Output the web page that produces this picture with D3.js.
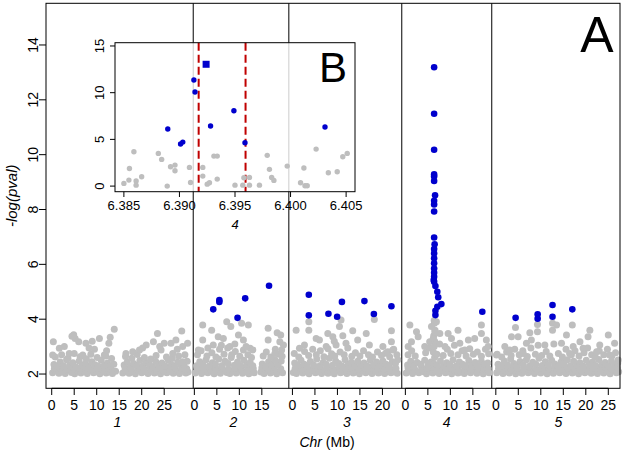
<!DOCTYPE html>
<html><head><meta charset="utf-8">
<script src="https://cdn.jsdelivr.net/npm/d3@7"></script>
<style>body{margin:0;background:#fff}svg{display:block;font-family:"Liberation Sans",Arial,sans-serif}</style>
</head><body><svg id="c" width="626" height="454"></svg>
<script>
// ---------- data ----------
const chromosomes = ["1","2","3","4","5"];
const chrOffsetMb = [0, 31.7, 53.5, 78.6, 98.7];
const chrLabelMb = [14.6, 8.7, 12.1, 9.2, 13.9];
const separatorsMb = [31.45, 52.7, 77.8, 97.8];
const chrTicks = [[0,5,10,15,20,25],[0,5,10,15],[0,5,10,15,20],[0,5,10,15],[0,5,10,15,20,25]];
const yTicks = [2,4,6,8,10,12,14];

const chr1Gray = [[0.2,2.05],[0.9,2.12],[1.6,2.03],[2.3,2.1],[3.0,2.02],[3.7,2.14],[4.4,2.06],[5.1,2.01],[5.8,2.11],[6.5,2.04],[7.2,2.09],[7.9,2.02],[8.6,2.13],[9.3,2.05],[10.0,2.08],[10.7,2.01],[11.4,2.12],[12.1,2.04],[12.8,2.07],[13.5,2.02],[14.2,2.1],[15.8,2.04],[16.5,2.11],[17.2,2.03],[17.9,2.08],[18.6,2.01],[19.3,2.13],[20.0,2.05],[20.7,2.09],[21.4,2.02],[22.1,2.12],[22.8,2.04],[23.5,2.07],[24.2,2.01],[24.9,2.1],[25.6,2.05],[26.3,2.13],[27.0,2.03],[27.7,2.08],[28.4,2.02],[29.1,2.11],[29.8,2.04],[30.3,2.07],
[0.6,2.2],[2.0,2.24],[3.4,2.18],[4.8,2.22],[6.2,2.2],[7.6,2.25],[9.0,2.19],[10.4,2.23],[11.8,2.2],[13.2,2.18],[16.3,2.22],[17.7,2.2],[19.1,2.25],[20.5,2.19],[21.9,2.23],[23.3,2.2],[24.7,2.18],[26.1,2.24],[27.5,2.2],[28.9,2.22],[30.0,2.19],
[0.5,2.35],[1.2,2.28],[1.9,2.44],[2.6,2.3],[3.3,2.52],[4.0,2.33],[4.7,2.41],[5.4,2.26],[6.1,2.48],[6.8,2.31],[7.5,2.39],[8.2,2.27],[8.9,2.45],[9.6,2.34],[10.3,2.29],[11.0,2.5],[11.7,2.32],[12.4,2.4],[13.1,2.28],[13.8,2.36],[16.1,2.33],[16.8,2.44],[17.5,2.27],[18.2,2.38],[18.9,2.31],[19.6,2.49],[20.3,2.29],[21.0,2.42],[21.7,2.35],[22.4,2.27],[23.1,2.46],[23.8,2.32],[24.5,2.4],[25.2,2.3],[25.9,2.51],[26.6,2.34],[27.3,2.28],[28.0,2.43],[28.7,2.36],[29.4,2.3],[30.1,2.47],
[0.8,2.62],[2.2,2.7],[3.6,2.58],[5.0,2.75],[6.3,2.63],[7.7,2.56],[8.7,2.72],[10.1,2.6],[12.0,2.66],[13.3,2.57],[16.4,2.64],[17.8,2.58],[19.0,2.71],[20.6,2.6],[22.0,2.55],[23.2,2.68],[25.5,2.62],[26.8,2.57],[28.2,2.66],[29.6,2.7],
[13.9,3.63],[28.9,3.57],[4.88,3.43],[23.5,3.48],[10.6,3.30],[13.0,3.34],[12.7,3.12],[0.36,3.18],[1.69,2.94],[2.8,3.0],[6.0,3.18],[7.6,3.12],[9.0,3.2],[9.5,2.9],[21.0,3.06],[22.6,3.18],[25.0,3.12],[26.5,3.12],[27.6,3.24],[30.2,3.12],[29.1,3.0],[0.21,2.69],[3.9,2.75],[6.9,2.69],[11.7,2.69],[16.5,2.75],[18.0,2.81],[19.5,2.88],[24.3,2.88],[26.9,2.75],[29.1,2.45],[5.2,3.3],[4.5,3.38],[8.3,2.95],[12.2,2.85],[20.2,2.95],[24.0,3.0],[27.9,2.9]];

const chr2Gray = [[0.2,2.04],[0.9,2.11],[1.6,2.02],[2.3,2.09],[3.0,2.05],[3.7,2.13],[4.4,2.01],[5.1,2.08],[5.8,2.03],[6.5,2.12],[7.2,2.06],[7.9,2.02],[8.6,2.1],[9.3,2.04],[10.0,2.13],[10.7,2.03],[11.4,2.08],[12.1,2.01],[12.8,2.11],[13.3,2.05],[14.8,2.07],[15.5,2.02],[16.2,2.12],[16.9,2.04],[17.6,2.09],[18.3,2.01],[19.0,2.1],[19.6,2.05],
[0.6,2.21],[2.0,2.19],[3.4,2.24],[4.8,2.2],[6.2,2.22],[7.6,2.18],[9.0,2.23],[10.4,2.2],[11.8,2.25],[13.1,2.19],[15.0,2.22],[16.4,2.2],[17.8,2.24],[19.2,2.19],
[0.5,2.3],[1.2,2.45],[1.9,2.33],[2.6,2.52],[3.3,2.29],[4.0,2.41],[4.7,2.36],[5.4,2.55],[6.1,2.3],[6.8,2.47],[7.5,2.38],[8.2,2.6],[8.9,2.32],[9.6,2.44],[10.3,2.29],[11.0,2.5],[11.7,2.35],[12.4,2.42],[13.0,2.3],[15.1,2.37],[15.8,2.28],[16.5,2.45],[17.2,2.33],[17.9,2.52],[18.6,2.36],[19.3,2.48],
[0.7,2.7],[1.5,2.85],[2.8,2.66],[3.9,2.78],[4.8,2.62],[5.6,2.9],[6.6,2.72],[7.4,2.95],[8.3,2.7],[9.1,2.82],[10.1,2.65],[10.9,2.88],[11.9,2.7],[12.7,2.6],[15.3,2.66],[16.0,2.8],[17.0,2.62],[18.0,2.9],[18.8,2.72],[19.5,2.65],
[1.86,3.79],[3.85,3.60],[7.19,3.91],[8.1,3.73],[10.5,3.85],[12.0,3.79],[16.4,3.67],[18.4,3.51],[19.2,3.42],[1.86,3.24],[5.3,3.36],[6.45,3.30],[9.8,3.42],[10.9,3.24],[16.4,3.24],[19.0,3.18],[0.9,2.88],[4.2,3.06],[7.9,3.0],[12.4,2.94],[13.0,2.88],[17.9,2.75],[19.4,2.88],[19.8,3.06],[6.0,3.05],[9.0,3.1],[11.5,3.0],[3.0,2.95]];

const chr3Gray = [[0.2,2.06],[0.9,2.02],[1.6,2.12],[2.3,2.04],[3.0,2.09],[3.7,2.01],[4.4,2.13],[5.1,2.05],[5.8,2.08],[6.5,2.02],[7.2,2.11],[7.9,2.03],[8.6,2.07],[9.3,2.01],[10.0,2.12],[10.7,2.05],[11.4,2.09],[12.1,2.02],[12.8,2.1],[13.5,2.04],[14.2,2.08],[14.9,2.01],[15.6,2.13],[16.3,2.05],[17.0,2.09],[17.7,2.02],[18.4,2.11],[19.1,2.04],[19.8,2.07],[20.5,2.02],[21.2,2.12],[21.9,2.05],[22.6,2.08],[23.3,2.03],
[0.6,2.2],[2.0,2.23],[3.4,2.19],[4.8,2.22],[6.2,2.2],[7.6,2.25],[9.0,2.18],[10.4,2.22],[11.8,2.2],[13.2,2.24],[14.6,2.19],[16.0,2.22],[17.4,2.2],[18.8,2.23],[20.2,2.18],[21.6,2.22],[23.0,2.2],
[0.5,2.4],[1.2,2.31],[1.9,2.5],[2.6,2.36],[3.3,2.28],[4.0,2.46],[4.7,2.33],[5.4,2.55],[6.1,2.3],[6.8,2.42],[7.5,2.36],[8.2,2.58],[8.9,2.32],[9.6,2.48],[10.3,2.38],[11.0,2.29],[11.7,2.52],[12.4,2.35],[13.1,2.43],[13.8,2.3],[14.5,2.47],[15.2,2.34],[15.9,2.4],[16.6,2.29],[17.3,2.5],[18.0,2.33],[18.7,2.44],[19.4,2.31],[20.1,2.48],[20.8,2.36],[21.5,2.3],[22.2,2.45],[22.9,2.38],[23.4,2.52],
[0.4,2.75],[1.4,2.62],[2.7,2.82],[3.6,2.68],[4.5,2.9],[5.3,2.7],[6.2,2.85],[7.0,2.63],[7.9,2.92],[8.7,2.74],[9.4,2.66],[10.6,2.8],[11.5,2.7],[12.3,2.95],[13.2,2.65],[14.0,2.78],[15.0,2.66],[15.8,2.85],[16.9,2.7],[17.8,2.62],[18.9,2.8],[19.8,2.68],[20.7,2.76],[21.6,2.63],[22.5,2.9],[23.2,2.7],
[3.64,3.91],[3.64,3.60],[0.82,3.60],[10.8,3.97],[10.45,3.73],[7.86,3.48],[8.97,3.36],[13.4,3.58],[16.4,3.48],[18.2,3.99],[22.0,3.58],[22.0,3.18],[5.27,3.30],[6.0,3.24],[11.9,3.12],[14.5,3.24],[17.1,3.06],[20.1,3.0],[2.67,3.06],[1.56,2.94],[21.2,2.81],[22.3,2.88],[9.7,3.06],[7.5,3.0],[9.3,3.2],[11.2,3.4]];

const chr4Gray = [[0.2,2.04],[0.9,2.1],[1.6,2.02],[2.3,2.12],[3.0,2.05],[4.0,2.08],[4.7,2.01],[5.4,2.11],[6.1,2.04],[6.8,2.09],[7.5,2.02],[8.2,2.13],[8.9,2.05],[9.6,2.08],[10.3,2.01],[11.0,2.12],[11.7,2.04],[12.4,2.07],[13.1,2.02],[13.8,2.1],[14.5,2.05],[15.2,2.12],[15.9,2.03],[16.6,2.08],[17.3,2.01],[18.0,2.11],[18.6,2.05],
[0.6,2.22],[2.0,2.19],[3.6,2.23],[4.8,2.2],[6.2,2.24],[7.6,2.19],[9.0,2.22],[10.4,2.2],[11.8,2.25],[13.2,2.18],[14.6,2.22],[16.0,2.2],[17.4,2.23],[18.4,2.19],
[0.5,2.33],[1.2,2.47],[1.9,2.3],[2.6,2.42],[3.4,2.36],[4.3,2.5],[5.0,2.31],[5.7,2.44],[6.3,2.38],[6.5,2.6],[7.1,2.33],[7.8,2.48],[8.5,2.3],[9.2,2.41],[9.9,2.35],[10.6,2.52],[11.3,2.29],[12.0,2.44],[12.7,2.36],[13.4,2.3],[14.1,2.49],[14.8,2.34],[15.5,2.42],[16.2,2.28],[16.9,2.46],[17.6,2.35],[18.3,2.4],
[0.6,2.7],[1.4,2.85],[2.2,2.66],[4.5,2.78],[5.3,2.95],[6.2,2.8],[6.4,3.0],[6.5,3.2],[6.3,3.4],[6.6,3.6],[6.45,3.85],[7.0,2.72],[7.6,3.1],[8.4,2.68],[9.3,2.9],[10.1,2.75],[10.9,3.05],[11.7,2.7],[12.6,2.85],[13.5,2.66],[14.3,2.92],[15.1,2.72],[16.0,2.8],[16.9,2.65],[17.8,2.9],[18.5,2.74],
[1.0,3.79],[2.47,3.54],[2.84,3.36],[1.36,3.18],[0.62,3.0],[5.8,3.73],[6.9,3.91],[6.55,3.54],[7.66,3.48],[9.5,3.48],[10.25,3.30],[11.7,3.60],[12.1,3.12],[14.0,3.24],[15.4,3.30],[16.9,3.79],[16.9,3.48],[18.0,3.24],[18.4,3.0],[4.3,3.0],[5.4,3.18],[8.8,3.0],[13.2,2.88],[6.4,3.95],[6.2,3.3]];

const chr5Gray = [[0.2,2.05],[0.9,2.11],[1.6,2.02],[2.3,2.09],[3.0,2.04],[3.7,2.13],[4.4,2.01],[5.1,2.07],[5.8,2.03],[6.5,2.12],[7.2,2.05],[7.9,2.09],[8.6,2.02],[9.3,2.1],[10.0,2.04],[10.7,2.13],[11.4,2.01],[12.1,2.08],[12.8,2.03],[13.5,2.11],[14.2,2.05],[14.9,2.09],[15.6,2.02],[16.3,2.12],[17.0,2.04],[17.7,2.08],[18.4,2.01],[19.1,2.1],[19.8,2.05],[20.5,2.13],[21.2,2.03],[21.9,2.07],[22.6,2.02],[23.3,2.11],[24.0,2.04],[24.7,2.09],[25.4,2.01],[26.1,2.12],[26.8,2.05],[27.3,2.08],
[0.6,2.2],[2.0,2.23],[3.4,2.19],[4.8,2.22],[6.2,2.2],[7.6,2.24],[9.0,2.18],[10.4,2.22],[11.8,2.2],[13.2,2.25],[14.6,2.19],[16.0,2.22],[17.4,2.2],[18.8,2.23],[20.2,2.18],[21.6,2.22],[23.0,2.2],[24.4,2.24],[25.8,2.19],[27.0,2.22],
[0.5,2.36],[1.2,2.3],[1.9,2.48],[2.6,2.33],[3.3,2.55],[4.0,2.38],[4.7,2.3],[5.4,2.46],[6.1,2.34],[6.8,2.52],[7.5,2.29],[8.2,2.43],[8.9,2.36],[9.6,2.58],[10.3,2.31],[11.0,2.45],[11.7,2.33],[12.4,2.5],[13.1,2.37],[13.8,2.28],[14.5,2.44],[15.2,2.35],[15.9,2.52],[16.6,2.3],[17.3,2.47],[18.0,2.34],[18.7,2.41],[19.4,2.29],[20.1,2.5],[20.8,2.36],[21.5,2.44],[22.2,2.31],[22.9,2.53],[23.6,2.35],[24.3,2.42],[25.0,2.3],[25.7,2.48],[26.4,2.34],[27.1,2.4],
[0.3,2.72],[1.3,2.62],[2.4,2.8],[3.4,2.68],[4.2,2.9],[5.2,2.7],[6.0,2.85],[7.0,2.64],[7.8,2.95],[8.8,2.72],[9.4,3.05],[10.2,2.68],[11.2,2.82],[12.0,2.66],[12.9,3.1],[13.9,2.75],[14.8,2.62],[15.6,2.9],[16.8,2.7],[17.6,2.85],[18.5,2.66],[19.6,2.78],[20.4,2.95],[21.3,2.7],[22.1,2.62],[23.0,2.84],[24.0,2.7],[24.8,2.9],[25.8,2.66],[26.6,2.78],
[4.37,3.70],[3.48,3.36],[4.96,3.36],[7.56,3.51],[9.26,3.81],[9.26,3.54],[12.6,3.85],[12.6,3.60],[13.5,3.79],[17.0,3.79],[15.7,3.42],[18.7,3.18],[20.9,3.60],[20.5,3.36],[25.0,3.42],[26.4,3.12],[2.0,3.0],[6.8,3.12],[7.9,3.24],[10.9,3.06],[14.6,3.12],[23.1,3.06],[17.2,3.0],[19.4,2.94],[0.15,2.69],[3.1,2.88],[6.1,2.75],[16.4,2.75],[22.4,2.81],[25.3,2.69],[27.2,2.51]];

const chr2Blue = [[16.6,5.22],[11.3,4.76],[5.56,4.70],[5.56,4.63],[4.2,4.36],[9.6,4.05]];
const chr3Blue = [[3.64,4.89],[3.64,4.14],[8.0,4.20],[9.93,4.09],[11.0,4.63],[16.0,4.66],[18.1,4.19],[22.0,4.47]];
const chr4Blue = [[6.39,13.19],[6.39,11.49],[6.39,10.18],[6.39,9.28],[6.39,9.2],[6.39,9.04],[6.6,8.52],[6.39,8.32],[6.39,8.18],[6.39,7.93],[6.39,6.98],[6.5,6.73],[6.39,6.56],[6.39,6.40],[6.39,6.22],[6.39,6.04],[6.39,5.85],[6.39,5.69],[6.39,5.55],[6.3,5.43],[6.39,5.37],[6.68,5.21],[7.1,5.0],[7.3,4.8],[8.0,4.55],[7.1,4.45],[6.68,4.31],[6.68,4.15],[17.1,4.27]];
const chr5Blue = [[4.4,4.05],[9.3,4.18],[9.3,4.02],[12.6,4.52],[12.6,4.09],[17.0,4.36]];

// inset (B) data: chromosome 4 position (Mb) and -log(pval)
const insetGray = [[6.3850,0.29],[6.38545,0.64],[6.3855,1.89],[6.3859,3.68],[6.3861,0.54],[6.3861,0.1],[6.3866,1.0],[6.3881,3.5],[6.3884,2.86],[6.3889,0.0],[6.3892,2.07],[6.3896,2.25],[6.3896,1.64],[6.3909,2.0],[6.3910,0.39],[6.3921,2.0],[6.3921,1.07],[6.3925,0.21],[6.3927,0.36],[6.3931,3.21],[6.3934,3.21],[6.3934,0.75],[6.3950,0.1],[6.3957,0.1],[6.3958,0.89],[6.3963,0.93],[6.3963,0.1],[6.3972,0.1],[6.3979,3.29],[6.3981,1.79],[6.3983,0.93],[6.3985,0.61],[6.3997,2.14],[6.4009,0.36],[6.4012,1.93],[6.4013,0.04],[6.4015,0.04],[6.4023,3.96],[6.4034,1.43],[6.4042,1.54],[6.4047,3.14],[6.4051,3.5]];
const insetBlue = [[6.38895,6.11],[6.3901,4.5],[6.3903,4.71],[6.3913,11.36],[6.3914,10.07],[6.3928,6.43],[6.3949,8.07],[6.3959,4.64],[6.4031,6.32]];
const insetLead = [[6.3924,13.04]];
const insetDashes = [6.39173, 6.39595];
const insetXTicks = [6.385,6.390,6.395,6.400,6.405];
const insetYTicks = [0,5,10,15];

// ---------- drawing ----------
const svg = d3.select("#c");
const GRAY = "#bebebe", BLUE = "#0000cd";
const x = d3.scaleLinear().domain([-1.27, 126.3]).range([46, 620]);
const y = d3.scaleLinear().domain([1.48, 15.52]).range([388.3, 3.3]);

const grays = [chr1Gray, chr2Gray, chr3Gray, chr4Gray, chr5Gray];
const blues = [[], chr2Blue, chr3Blue, chr4Blue, chr5Blue];

svg.selectAll("line.sep").data(separatorsMb).join("line")
  .attr("x1", d => x(d)).attr("x2", d => x(d)).attr("y1", y.range()[1]).attr("y2", y.range()[0])
  .attr("stroke", "#000").attr("stroke-width", 1);

const gG = svg.append("g");
grays.forEach((arr, i) => {
  gG.selectAll(null).data(arr).join("circle")
    .attr("cx", d => x(chrOffsetMb[i] + d[0])).attr("cy", d => y(d[1])).attr("r", 3.5).attr("fill", GRAY);
});
const gB = svg.append("g");
blues.forEach((arr, i) => {
  gB.selectAll(null).data(arr).join("circle")
    .attr("cx", d => x(chrOffsetMb[i] + d[0])).attr("cy", d => y(d[1])).attr("r", 3.3).attr("fill", BLUE);
});

svg.append("rect").attr("x", 46).attr("y", 3.3).attr("width", 620 - 46).attr("height", 388.3 - 3.3)
  .attr("fill", "none").attr("stroke", "#000").attr("stroke-width", 1);

const yAx = svg.append("g").attr("transform", "translate(46,0)");
yAx.selectAll("line").data(yTicks).join("line")
  .attr("x1", 0).attr("x2", -7).attr("y1", d => y(d)).attr("y2", d => y(d)).attr("stroke", "#000");
yAx.selectAll("text").data(yTicks).join("text")
  .attr("transform", d => `translate(-8,${y(d)}) rotate(-90)`)
  .attr("text-anchor", "middle").attr("font-size", 14).text(d => d);
svg.append("text").attr("transform", `translate(17,${(3.3 + 388.3) / 2}) rotate(-90)`)
  .attr("text-anchor", "middle").attr("font-size", 15).attr("font-style", "italic").text("-log(pval)");

chromosomes.forEach((c, i) => {
  const g = svg.append("g");
  const t = chrTicks[i];
  g.append("line").attr("x1", x(chrOffsetMb[i] + t[0])).attr("x2", x(chrOffsetMb[i] + t[t.length - 1]))
    .attr("y1", 388.3).attr("y2", 388.3).attr("stroke", "#000");
  g.selectAll("line.t").data(t).join("line").attr("class", "t")
    .attr("x1", d => x(chrOffsetMb[i] + d)).attr("x2", d => x(chrOffsetMb[i] + d))
    .attr("y1", 388.3).attr("y2", 395).attr("stroke", "#000");
  g.selectAll("text").data(t).join("text")
    .attr("x", d => x(chrOffsetMb[i] + d)).attr("y", 410).attr("text-anchor", "middle")
    .attr("font-size", 14).text(d => d);
  svg.append("text").attr("x", x(chrOffsetMb[i] + chrLabelMb[i])).attr("y", 427)
    .attr("text-anchor", "middle").attr("font-size", 14).attr("font-style", "italic").text(c);
});
const xl = svg.append("text").attr("x", 327).attr("y", 447).attr("text-anchor", "middle").attr("font-size", 14);
xl.append("tspan").attr("font-style", "italic").text("Chr");
xl.append("tspan").text(" (Mb)");

svg.append("text").attr("x", 597).attr("y", 52).attr("text-anchor", "middle").attr("font-size", 50).text("A");

// ---------- inset ----------
const ix = d3.scaleLinear().domain([6.3842, 6.4058]).range([115, 355]);
const iy = d3.scaleLinear().domain([-0.6, 15.35]).range([191.7, 42.7]);
const ig = svg.append("g");
ig.append("rect").attr("x", 115).attr("y", 42.7).attr("width", 240).attr("height", 149)
  .attr("fill", "#fff").attr("fill-opacity", 0.8).attr("stroke", "none");
ig.selectAll("line.dash").data(insetDashes).join("line").attr("class", "dash")
  .attr("x1", d => ix(d)).attr("x2", d => ix(d)).attr("y1", 42.7).attr("y2", 191.7)
  .attr("stroke", "#c00000").attr("stroke-width", 2).attr("stroke-dasharray", "8,4");
ig.selectAll("circle.g").data(insetGray).join("circle").attr("class", "g")
  .attr("cx", d => ix(d[0])).attr("cy", d => iy(d[1])).attr("r", 2.7).attr("fill", GRAY);
ig.selectAll("circle.b").data(insetBlue).join("circle").attr("class", "b")
  .attr("cx", d => ix(d[0])).attr("cy", d => iy(d[1])).attr("r", 2.7).attr("fill", BLUE);
ig.selectAll("rect.lead").data(insetLead).join("rect").attr("class", "lead")
  .attr("x", d => ix(d[0]) - 3.5).attr("y", d => iy(d[1]) - 3.5).attr("width", 7).attr("height", 7).attr("fill", BLUE);
ig.append("rect").attr("x", 115).attr("y", 42.7).attr("width", 240).attr("height", 149)
  .attr("fill", "none").attr("stroke", "#000");
ig.selectAll("line.xt").data(insetXTicks).join("line").attr("class", "xt")
  .attr("x1", d => ix(d)).attr("x2", d => ix(d)).attr("y1", 191.7).attr("y2", 197).attr("stroke", "#000");
ig.selectAll("text.xt").data(insetXTicks).join("text").attr("class", "xt")
  .attr("x", d => ix(d)).attr("y", 210).attr("text-anchor", "middle").attr("font-size", 13).text(d => d3.format(".3f")(d));
ig.selectAll("line.yt").data(insetYTicks).join("line").attr("class", "yt")
  .attr("x1", 115).attr("x2", 110).attr("y1", d => iy(d)).attr("y2", d => iy(d)).attr("stroke", "#000");
ig.selectAll("text.yt").data(insetYTicks).join("text").attr("class", "yt")
  .attr("transform", d => `translate(104,${iy(d)}) rotate(-90)`).attr("text-anchor", "middle").attr("font-size", 13).text(d => d);
ig.append("text").attr("x", ix(6.395)).attr("y", 229).attr("text-anchor", "middle").attr("font-size", 13).attr("font-style", "italic").text("4");
ig.append("text").attr("x", 333).attr("y", 82).attr("text-anchor", "middle").attr("font-size", 42).text("B");
</script></body></html>
